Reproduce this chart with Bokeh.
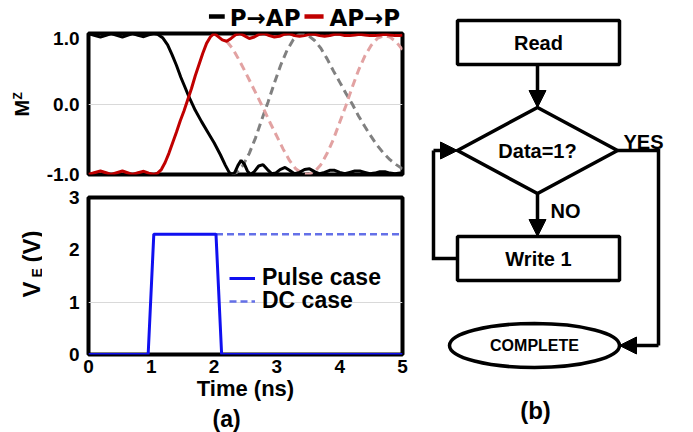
import math
from bokeh.plotting import figure
from bokeh.layouts import row, column
from bokeh.models import (Range1d, FixedTicker, PrintfTickFormatter, Legend, LegendItem,
                          Title, Arrow, NormalHead, ColumnDataSource)
from bokeh.core.properties import value
from bokeh.embed import file_html
from bokeh.resources import INLINE

FONT = "Liberation Sans"

# ---------------- data: (a) top panel, Mz vs time (ns) ----------------
t_p2ap = [0, 0.09, 0.19, 0.28, 0.36, 0.45, 0.54, 0.62, 0.70, 0.79, 0.88, 0.96, 1.04, 1.10, 1.18,
          1.26, 1.33, 1.40, 1.47, 1.54, 1.60, 1.70, 1.80, 1.90, 2.00, 2.10, 2.18, 2.24, 2.28, 2.33,
          2.38, 2.43, 2.48, 2.53, 2.58, 2.64, 2.71, 2.78, 2.85, 2.92, 2.98, 3.05, 3.13, 3.20, 3.28,
          3.36, 3.44, 3.52, 3.60, 3.68, 3.76, 3.84, 3.92, 4.00, 4.08, 4.16, 4.24, 4.32, 4.40, 4.48,
          4.56, 4.64, 4.72, 4.80, 4.88, 4.96, 5.00]
mz_p2ap = [1.0, 0.975, 0.95, 0.975, 1.0, 0.975, 0.95, 0.975, 1.0, 0.975, 0.955, 0.98, 1.0, 0.99, 0.94,
           0.84, 0.70, 0.55, 0.38, 0.23, 0.10, -0.09, -0.25, -0.40, -0.55, -0.72, -0.87, -0.97, -1.0, -0.97,
           -0.87, -0.80, -0.85, -0.95, -1.0, -0.96, -0.88, -0.86, -0.93, -0.99, -0.98, -0.93, -0.90, -0.94, -0.99,
           -0.97, -0.93, -0.92, -0.96, -0.99, -0.97, -0.94, -0.94, -0.97, -0.99, -0.97, -0.95, -0.95, -0.97, -0.99,
           -0.98, -0.96, -0.96, -0.98, -0.99, -0.98, -0.97]

t_ap2p = [0, 0.09, 0.19, 0.28, 0.36, 0.45, 0.54, 0.62, 0.70, 0.79, 0.88, 0.96, 1.04,
          1.10, 1.16, 1.22, 1.28, 1.34, 1.40, 1.46, 1.52, 1.58, 1.64, 1.70, 1.76, 1.82, 1.88, 1.94,
          2.00, 2.06, 2.13, 2.20, 2.27, 2.34, 2.41, 2.48, 2.56, 2.64, 2.72, 2.80, 2.88, 2.96, 3.04,
          3.12, 3.20, 3.28, 3.36, 3.44, 3.52, 3.60, 3.68, 3.76, 3.84, 3.92, 4.00, 4.08, 4.16, 4.24,
          4.32, 4.40, 4.48, 4.56, 4.64, 4.72, 4.80, 4.88, 4.96, 5.00]
mz_ap2p = [-1.0, -0.975, -0.95, -0.975, -1.0, -0.975, -0.95, -0.975, -1.0, -0.975, -0.955, -0.98, -1.0,
           -0.98, -0.93, -0.83, -0.70, -0.55, -0.40, -0.24, -0.10, 0.06, 0.22, 0.40, 0.56, 0.72, 0.86, 0.95,
           1.0, 0.96, 0.91, 0.89, 0.93, 0.98, 1.0, 0.97, 0.93, 0.95, 0.99, 1.0, 0.97, 0.95, 0.96,
           0.99, 1.0, 0.97, 0.96, 0.97, 0.99, 0.99, 0.97, 0.96, 0.97, 0.99, 0.99, 0.97, 0.97, 0.98,
           0.99, 0.98, 0.97, 0.97, 0.98, 0.99, 0.98, 0.97, 0.97, 0.98]

t_dc_p2ap = [2.28, 2.36, 2.46, 2.56, 2.66, 2.76, 2.86, 2.96, 3.06, 3.16, 3.26, 3.34, 3.40, 3.50, 3.60,
             3.70, 3.80, 3.90, 4.00, 4.10, 4.20, 4.30, 4.40, 4.50, 4.60, 4.70, 4.80, 4.90, 5.00]
mz_dc_p2ap = [-1.0, -0.97, -0.87, -0.70, -0.48, -0.22, 0.03, 0.30, 0.55, 0.76, 0.91, 0.98, 1.0, 0.97, 0.90,
              0.79, 0.64, 0.47, 0.31, 0.15, 0.0, -0.17, -0.32, -0.46, -0.59, -0.70, -0.79, -0.86, -0.92]

t_dc_ap2p = [2.20, 2.30, 2.40, 2.50, 2.60, 2.70, 2.80, 2.90, 3.00, 3.10, 3.20, 3.30, 3.40, 3.50, 3.60,
             3.70, 3.80, 3.90, 4.00, 4.10, 4.20, 4.30, 4.40, 4.50, 4.60, 4.70, 4.80, 4.90, 5.00]
mz_dc_ap2p = [0.89, 0.78, 0.62, 0.45, 0.27, 0.09, -0.09, -0.28, -0.46, -0.64, -0.80, -0.92, -0.98, -1.0, -0.96,
              -0.86, -0.70, -0.50, -0.26, -0.02, 0.24, 0.48, 0.68, 0.83, 0.93, 0.97, 0.95, 0.88, 0.77]

mz_ticks = [-1.0, 0.0, 1.0]
mz_series_labels = ["P→AP", "AP→P"]
mz_series_colors = ["black", "#c00000"]

# ---------------- data: (a) bottom panel, VE vs time ----------------
t_pulse = [0, 0.95, 1.04, 2.03, 2.12, 5.0]
v_pulse = [0, 0, 2.3, 2.3, 0, 0]
t_dc = [2.03, 5.0]
v_dc = [2.3, 2.3]
time_ticks = [0, 1, 2, 3, 4, 5]
ve_ticks = [0, 1, 2, 3]

# ---------------- axis titles (rotated, with subscripts) ----------------
mz_title_parts = ["M", "Z"]
ve_title_parts = ["V", "E", "(V)"]

# ---------------- data: (b) flowchart ----------------
node_text = ["Read", "Data=1?", "Write 1", "COMPLETE"]
node_shape = ["rect", "diamond", "rect", "ellipse"]
node_x = [538, 537, 538, 534]
node_y = [42, 150, 258, 345]
node_w = [162, 160, 162, 170]
node_h = [44, 86, 44, 44]
node_font = ["20px", "20px", "20px", "16px"]
loop_lane_x = 433
yes_lane_x = 658

H = 432  # page height in px


def style_axis(ax, size="19px", standoff=9):
    ax.axis_line_color = None
    ax.major_tick_line_color = None
    ax.minor_tick_line_color = None
    ax.major_tick_out = 0
    ax.major_tick_in = 0
    ax.major_label_text_font = FONT
    ax.major_label_text_font_style = "bold"
    ax.major_label_text_font_size = size
    ax.major_label_text_color = "black"
    ax.major_label_standoff = standoff


def plain_fig(w, h, xr, yr):
    f = figure(width=w, height=h, x_range=Range1d(*xr), y_range=Range1d(*yr),
               output_backend="svg", toolbar_location=None, min_border=0,
               x_axis_location=None, y_axis_location=None)
    f.grid.visible = False
    f.outline_line_color = None
    return f


def make_legend(items, loc, size="23px"):
    return Legend(items=items, orientation="vertical", location=loc,
                  label_text_font=FONT, label_text_font_style="bold", label_text_font_size=size,
                  label_text_color="black", glyph_width=26, glyph_height=20,
                  label_standoff=7, spacing=0, padding=0, margin=0,
                  border_line_color=None, background_fill_alpha=0)


# ================= strip with rotated y-axis titles =================
STRIP_W = 42
strip = plain_fig(STRIP_W, H, (0, STRIP_W), (0, H))
strip.text([21, 17], [H - 116, H - 99], text=mz_title_parts, angle=math.pi / 2,
           text_font=value(FONT), text_font_style="bold", text_font_size=["20px", "12px"],
           text_align="left", text_baseline="middle", text_color="black")
strip.text([31, 36, 31], [H - 297, H - 277, H - 262], text=ve_title_parts, angle=math.pi / 2,
           text_font=value(FONT), text_font_style="bold", text_font_size=["24px", "14px", "24px"],
           text_align="left", text_baseline="middle", text_color="black")

LEFT_W = 420 - STRIP_W
BL = 88 - STRIP_W
LEG_H = 31

# ================= key above the top panel (window-pixel coordinates) =================
legfig = plain_fig(LEFT_W, LEG_H, (STRIP_W, 420), (LEG_H, 0))
legfig.multi_line(xs=[[187, 206], [302, 325]], ys=[[16, 16], [16, 16]],
                  line_color=mz_series_colors, line_width=4.5)
legfig.text([212, 332], [17, 17], text=mz_series_labels, text_font=value("DejaVu Sans"),
            text_font_style="bold", text_font_size=value("23px"),
            text_align="left", text_baseline="middle", text_color="black")

# ================= top panel =================
top = figure(width=LEFT_W, height=185 - LEG_H, x_range=Range1d(0, 5), y_range=Range1d(-1, 1),
             output_backend="svg", toolbar_location=None, x_axis_location=None,
             min_border_left=BL, min_border_right=18, min_border_top=33 - LEG_H, min_border_bottom=11)
top.outline_line_color = "black"
top.outline_line_width = 4
top.xgrid.visible = False
top.ygrid.ticker = FixedTicker(ticks=[0])
top.ygrid.grid_line_color = "#d9d9d9"
top.yaxis.ticker = FixedTicker(ticks=mz_ticks)
top.yaxis.formatter = PrintfTickFormatter(format="%.1f")
style_axis(top.yaxis[0])

top.line(t_dc_p2ap, mz_dc_p2ap, line_color="#808080", line_width=3, line_dash="8 5")
top.line(t_dc_ap2p, mz_dc_ap2p, line_color="#e2a2a2", line_width=3, line_dash="8 5")
top.line(t_p2ap, mz_p2ap, line_color=mz_series_colors[0], line_width=3)
top.line(t_ap2p, mz_ap2p, line_color=mz_series_colors[1], line_width=3)

# ================= bottom panel =================
bot = figure(width=LEFT_W, height=247, x_range=Range1d(0, 5), y_range=Range1d(0, 3),
             output_backend="svg", toolbar_location=None,
             min_border_left=BL, min_border_right=18, min_border_top=12, min_border_bottom=78)
bot.outline_line_color = "black"
bot.outline_line_width = 4
bot.xgrid.visible = False
bot.ygrid.ticker = FixedTicker(ticks=[1])
bot.ygrid.grid_line_color = "#d9d9d9"
bot.xaxis.ticker = FixedTicker(ticks=time_ticks)
bot.yaxis.ticker = FixedTicker(ticks=ve_ticks)
style_axis(bot.yaxis[0])
style_axis(bot.xaxis[0], standoff=5)
bot.xaxis.axis_label = "Time (ns)"
bot.xaxis.axis_label_text_font = FONT
bot.xaxis.axis_label_text_font_style = "bold"
bot.xaxis.axis_label_text_font_size = "22px"
bot.xaxis.axis_label_text_color = "black"
bot.xaxis.axis_label_standoff = 0

r_dc = bot.line(t_dc, v_dc, line_color="#6470e8", line_width=2.5, line_dash="7 4")
r_pulse = bot.line(t_pulse, v_pulse, line_color="#1010f0", line_width=3)

bot.add_layout(make_legend([LegendItem(label="Pulse case", renderers=[r_pulse])], (141, 63)))
bot.add_layout(make_legend([LegendItem(label="DC case", renderers=[r_dc])], (141, 40)))

bot.add_layout(Title(text="(a)", align="left", offset=124, standoff=0,
                     text_font=FONT, text_font_style="bold", text_font_size="23px",
                     text_color="black"), "below")

# ================= flowchart =================
flow = plain_fig(273, H, (420, 693), (H, 0))

LW = 3.5
rx = [x for x, s in zip(node_x, node_shape) if s == "rect"]
ry = [y for y, s in zip(node_y, node_shape) if s == "rect"]
rw = [w for w, s in zip(node_w, node_shape) if s == "rect"]
rh = [h for h, s in zip(node_h, node_shape) if s == "rect"]
flow.rect(rx, ry, rw, rh, fill_color="white", line_color="black", line_width=LW)

for x, y, w, h, s in zip(node_x, node_y, node_w, node_h, node_shape):
    if s == "diamond":
        flow.patch([x, x + w / 2, x, x - w / 2], [y - h / 2, y, y + h / 2, y],
                   fill_color="white", line_color="black", line_width=LW, line_join="miter")
    elif s == "ellipse":
        flow.ellipse([x], [y], [w], [h], fill_color="white", line_color="black", line_width=LW)

flow.text(node_x, node_y, text=node_text, text_font=value(FONT), text_font_style="bold",
          text_font_size=node_font, text_align="center", text_baseline="middle", text_color="black")

read_bottom = (node_x[1], node_y[0] + node_h[0] / 2)
dia_top = (node_x[1], node_y[1] - node_h[1] / 2)
dia_bottom = (node_x[1], node_y[1] + node_h[1] / 2)
dia_left = (node_x[1] - node_w[1] / 2, node_y[1])
dia_right = (node_x[1] + node_w[1] / 2, node_y[1])
write_top = (node_x[1], node_y[2] - node_h[2] / 2)
write_left = (node_x[2] - node_w[2] / 2, node_y[2])
comp_right = (node_x[3] + node_w[3] / 2, node_y[3])

flow.multi_line(
    xs=[[write_left[0], loop_lane_x, loop_lane_x], [dia_right[0], yes_lane_x, yes_lane_x]],
    ys=[[write_left[1], write_left[1], dia_left[1]], [dia_right[1], dia_right[1], comp_right[1]]],
    line_color="black", line_width=LW, line_join="miter")

arrows = ColumnDataSource(dict(
    x0=[read_bottom[0], dia_bottom[0], loop_lane_x, yes_lane_x],
    y0=[read_bottom[1], dia_bottom[1], dia_left[1], comp_right[1]],
    x1=[dia_top[0], write_top[0], dia_left[0], comp_right[0]],
    y1=[dia_top[1], write_top[1], dia_left[1], comp_right[1]],
))
flow.add_layout(Arrow(end=NormalHead(size=17, fill_color="black", line_color="black", line_width=1),
                      x_start="x0", y_start="y0", x_end="x1", y_end="y1", source=arrows,
                      line_color="black", line_width=LW))

flow.text([623, 550], [141, 210], text=["YES", "NO"], text_font=value(FONT), text_font_style="bold",
          text_font_size=value("20px"), text_align="left", text_baseline="middle", text_color="black")
flow.text([535], [410], text=["(b)"], text_font=value(FONT), text_font_style="bold",
          text_font_size=value("24px"), text_align="center", text_baseline="middle", text_color="black")

layout = row(strip, column(legfig, top, bot), flow)
open("out.html", "w").write(file_html(layout, INLINE))
